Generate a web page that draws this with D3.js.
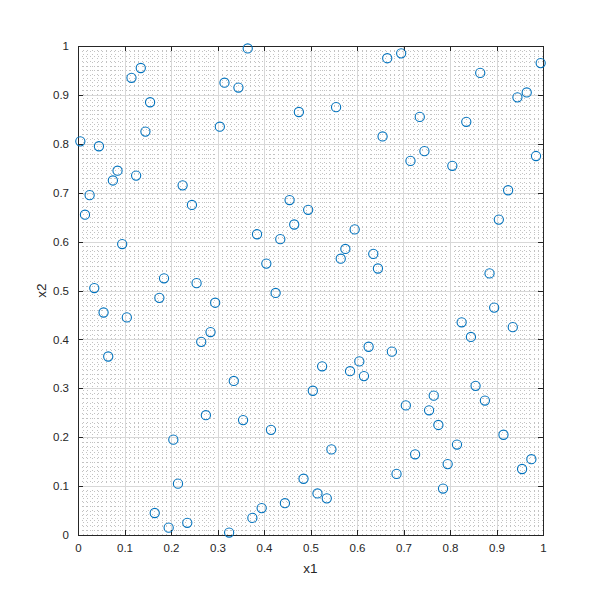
<!DOCTYPE html>
<html>
<head>
<meta charset="utf-8">
<script src="https://cdn.jsdelivr.net/npm/d3@7"></script>
<style>
  html, body { margin: 0; padding: 0; background: #ffffff; }
  svg { display: block; }
</style>
</head>
<body>
<svg id="chart" width="600" height="600"></svg>
<script>
// Sample points (Latin hypercube style)
const x1 = [0.365,0.695,0.665,0.995,0.135,0.865,0.115,0.315,0.345,0.965,
            0.945,0.155,0.555,0.475,0.735,0.835,0.305,0.145,0.655,0.005,
            0.045,0.745,0.985,0.715,0.805,0.085,0.125,0.075,0.225,0.925,
            0.025,0.455,0.245,0.495,0.015,0.905,0.465,0.595,0.385,0.435,
            0.095,0.575,0.635,0.565,0.405,0.645,0.885,0.185,0.255,0.035,
            0.425,0.175,0.295,0.895,0.055,0.105,0.825,0.935,0.285,0.845,
            0.265,0.625,0.675,0.065,0.605,0.525,0.585,0.615,0.335,0.855,
            0.505,0.765,0.875,0.705,0.755,0.275,0.355,0.775,0.415,0.915,
            0.205,0.815,0.545,0.725,0.975,0.795,0.955,0.685,0.485,0.215,
            0.785,0.515,0.535,0.445,0.395,0.165,0.375,0.235,0.195,0.325];
const x2 = [0.995,0.985,0.975,0.965,0.955,0.945,0.935,0.925,0.915,0.905,
            0.895,0.885,0.875,0.865,0.855,0.845,0.835,0.825,0.815,0.805,
            0.795,0.785,0.775,0.765,0.755,0.745,0.735,0.725,0.715,0.705,
            0.695,0.685,0.675,0.665,0.655,0.645,0.635,0.625,0.615,0.605,
            0.595,0.585,0.575,0.565,0.555,0.545,0.535,0.525,0.515,0.505,
            0.495,0.485,0.475,0.465,0.455,0.445,0.435,0.425,0.415,0.405,
            0.395,0.385,0.375,0.365,0.355,0.345,0.335,0.325,0.315,0.305,
            0.295,0.285,0.275,0.265,0.255,0.245,0.235,0.225,0.215,0.205,
            0.195,0.185,0.175,0.165,0.155,0.145,0.135,0.125,0.115,0.105,
            0.095,0.085,0.075,0.065,0.055,0.045,0.035,0.025,0.015,0.005];
const majorTicks = [0,0.1,0.2,0.3,0.4,0.5,0.6,0.7,0.8,0.9,1];
const tickLabels = ["0","0.1","0.2","0.3","0.4","0.5","0.6","0.7","0.8","0.9","1"];
const minorTicks = d3.range(1,100).map(i => i/100).filter(v => Math.round(v*100) % 10 !== 0);
const xLabel = "x1";
const yLabel = "x2";

(function () {
const svg = d3.select("#chart");
const pL = 78, pR = 543, pT = 46, pB = 535;
const x = d3.scaleLinear().domain([0,1]).range([pL, pR]);
const y = d3.scaleLinear().domain([0,1]).range([pB, pT]);
const axisColor = "#262626";
const font = "'Liberation Sans', Arial, Helvetica, sans-serif";

svg.append("rect").attr("x", pL).attr("y", pT)
  .attr("width", pR-pL).attr("height", pB-pT).attr("fill", "#ffffff");

const grid = svg.append("g").attr("shape-rendering", "crispEdges");
grid.selectAll(".mx").data(minorTicks).join("line")
  .attr("x1", d => Math.round(x(d))+0.5).attr("x2", d => Math.round(x(d))+0.5)
  .attr("y1", pT).attr("y2", pB)
  .attr("stroke", "#c2c2c2").attr("stroke-width", 1).attr("stroke-dasharray", "1,3");
grid.selectAll(".my").data(minorTicks).join("line")
  .attr("y1", d => Math.round(y(d))+0.5).attr("y2", d => Math.round(y(d))+0.5)
  .attr("x1", pL).attr("x2", pR)
  .attr("stroke", "#c2c2c2").attr("stroke-width", 1).attr("stroke-dasharray", "1,3");
grid.selectAll(".gx").data(majorTicks).join("line")
  .attr("x1", d => Math.round(x(d))+0.5).attr("x2", d => Math.round(x(d))+0.5)
  .attr("y1", pT).attr("y2", pB)
  .attr("stroke", "#d8d8d8").attr("stroke-width", 1);
grid.selectAll(".gy").data(majorTicks).join("line")
  .attr("y1", d => Math.round(y(d))+0.5).attr("y2", d => Math.round(y(d))+0.5)
  .attr("x1", pL).attr("x2", pR)
  .attr("stroke", "#d8d8d8").attr("stroke-width", 1);

function styleAxis(g, showLabels) {
  g.select(".domain").remove();
  g.selectAll(".tick line").attr("stroke", axisColor).attr("shape-rendering", "crispEdges");
  g.selectAll(".tick text").attr("fill", axisColor).style("font-family", font).style("font-size", "11.5px");
  if (!showLabels) g.selectAll(".tick text").remove();
}
const fmt = (d,i) => tickLabels[i];
svg.append("g").attr("transform", `translate(0,${pB})`)
  .call(d3.axisBottom(x).tickValues(majorTicks).tickFormat(fmt).tickSizeInner(-5).tickSizeOuter(0).tickPadding(9))
  .call(g => styleAxis(g, true));
svg.append("g").attr("transform", `translate(0,${pT})`)
  .call(d3.axisTop(x).tickValues(majorTicks).tickFormat(fmt).tickSizeInner(-5).tickSizeOuter(0))
  .call(g => styleAxis(g, false));
svg.append("g").attr("transform", `translate(${pL},0)`)
  .call(d3.axisLeft(y).tickValues(majorTicks).tickFormat(fmt).tickSizeInner(-5).tickSizeOuter(0).tickPadding(9))
  .call(g => styleAxis(g, true));
svg.append("g").attr("transform", `translate(${pR},0)`)
  .call(d3.axisRight(y).tickValues(majorTicks).tickFormat(fmt).tickSizeInner(-5).tickSizeOuter(0))
  .call(g => styleAxis(g, false));

svg.append("rect").attr("x", pL+0.5).attr("y", pT+0.5)
  .attr("width", pR-pL).attr("height", pB-pT)
  .attr("fill", "none").attr("stroke", axisColor).attr("stroke-width", 1)
  .attr("shape-rendering", "crispEdges");

svg.append("g").selectAll("circle").data(x1.map((v,i) => [v, x2[i]])).join("circle")
  .attr("cx", d => x(d[0])).attr("cy", d => y(d[1])).attr("r", 4.6)
  .attr("fill", "none").attr("stroke", "#0072BD").attr("stroke-width", 1.1);

svg.append("text").attr("x", (pL+pR)/2).attr("y", 573)
  .attr("text-anchor", "middle").attr("fill", axisColor)
  .style("font-family", font).style("font-size", "13.5px").text(xLabel);
svg.append("text").attr("transform", `translate(46,${(pT+pB)/2}) rotate(-90)`)
  .attr("text-anchor", "middle").attr("fill", axisColor)
  .style("font-family", font).style("font-size", "13.5px").text(yLabel);
})();
</script>
</body>
</html>
